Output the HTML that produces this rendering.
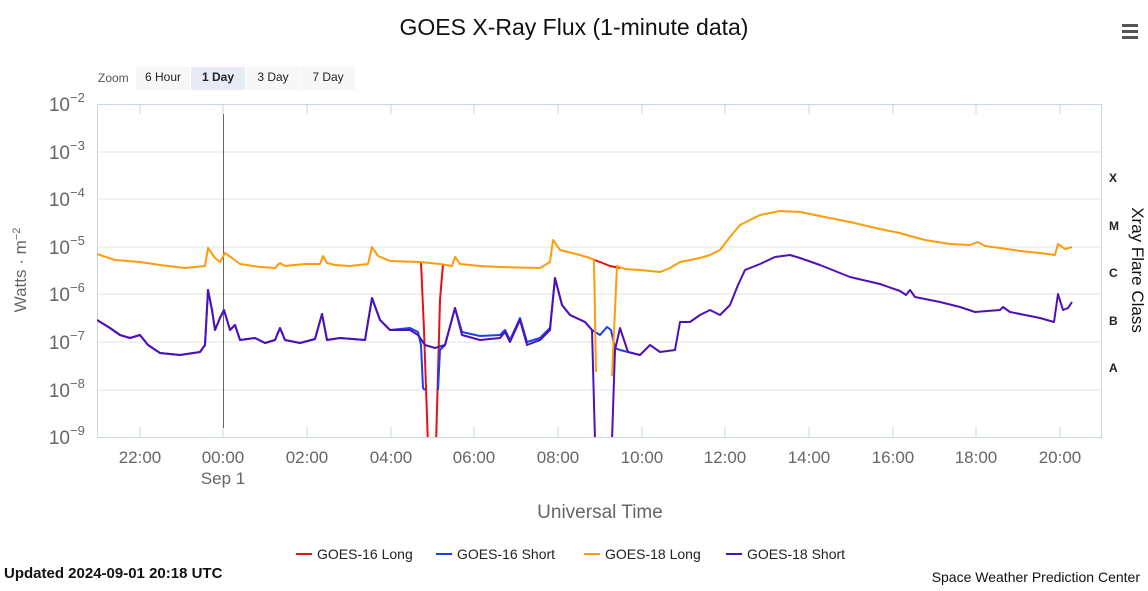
<!DOCTYPE html>
<html><head><meta charset="utf-8"><style>
body{margin:0;background:#fff;width:1148px;height:586px;overflow:hidden;font-family:"Liberation Sans","DejaVu Sans",sans-serif}
svg text{font-family:"Liberation Sans","DejaVu Sans",sans-serif}
</style></head><body>
<svg width="1148" height="586" xmlns="http://www.w3.org/2000/svg">
<text x="574" y="35" font-size="23" text-anchor="middle" fill="#111">GOES X-Ray Flux (1-minute data)</text>
<g fill="#555"><rect x="1122" y="24" width="16" height="3"/><rect x="1122" y="30" width="16" height="3"/><rect x="1122" y="36" width="16" height="3"/></g>
<text x="98" y="82" font-size="12" fill="#555">Zoom</text>
<rect x="136" y="67" width="54" height="23" fill="#f7f7f7"/><text x="163" y="81" font-size="12" text-anchor="middle" fill="#222">6 Hour</text>
<rect x="191" y="67" width="54" height="23" fill="#e6ebf5"/><text x="218" y="81" font-size="12" text-anchor="middle" font-weight="bold" fill="#222">1 Day</text>
<rect x="246" y="67" width="54" height="23" fill="#f7f7f7"/><text x="273" y="81" font-size="12" text-anchor="middle" fill="#222">3 Day</text>
<rect x="301" y="67" width="54" height="23" fill="#f7f7f7"/><text x="328" y="81" font-size="12" text-anchor="middle" fill="#222">7 Day</text>
<g stroke="#e3e3e3" stroke-width="1">
<line x1="97" x2="1102" y1="152" y2="152"/><line x1="97" x2="1102" y1="199" y2="199"/><line x1="97" x2="1102" y1="247" y2="247"/><line x1="97" x2="1102" y1="294" y2="294"/><line x1="97" x2="1102" y1="342" y2="342"/><line x1="97" x2="1102" y1="390" y2="390"/>
</g>
<g stroke="#ccd6eb" stroke-width="1" fill="none">
<rect x="97.5" y="104.5" width="1004" height="333"/>
</g>
<g stroke="#ccd6eb">
<line x1="140" x2="140" y1="104" y2="114"/><line x1="223" x2="223" y1="104" y2="114"/><line x1="307" x2="307" y1="104" y2="114"/><line x1="391" x2="391" y1="104" y2="114"/><line x1="474" x2="474" y1="104" y2="114"/><line x1="558" x2="558" y1="104" y2="114"/><line x1="642" x2="642" y1="104" y2="114"/><line x1="725" x2="725" y1="104" y2="114"/><line x1="809" x2="809" y1="104" y2="114"/><line x1="893" x2="893" y1="104" y2="114"/><line x1="976" x2="976" y1="104" y2="114"/><line x1="1060" x2="1060" y1="104" y2="114"/>
<line x1="140" x2="140" y1="427" y2="437"/><line x1="223" x2="223" y1="427" y2="437"/><line x1="307" x2="307" y1="427" y2="437"/><line x1="391" x2="391" y1="427" y2="437"/><line x1="474" x2="474" y1="427" y2="437"/><line x1="558" x2="558" y1="427" y2="437"/><line x1="642" x2="642" y1="427" y2="437"/><line x1="725" x2="725" y1="427" y2="437"/><line x1="809" x2="809" y1="427" y2="437"/><line x1="893" x2="893" y1="427" y2="437"/><line x1="976" x2="976" y1="427" y2="437"/><line x1="1060" x2="1060" y1="427" y2="437"/>
</g>
<line x1="223.5" x2="223.5" y1="114" y2="428" stroke="#666" stroke-width="1"/>
<g font-size="19" fill="#666" font-family="Liberation Serif,serif" text-anchor="end">
<text x="70" y="111">10</text><text x="70" y="159">10</text><text x="70" y="206">10</text><text x="70" y="254">10</text><text x="70" y="301">10</text><text x="70" y="349">10</text><text x="70" y="397">10</text><text x="70" y="444">10</text>
</g>
<g font-size="13" fill="#666" font-family="Liberation Serif,serif">
<text x="70" y="102">−2</text><text x="70" y="150">−3</text><text x="70" y="197">−4</text><text x="70" y="245">−5</text><text x="70" y="292">−6</text><text x="70" y="340">−7</text><text x="70" y="388">−8</text><text x="70" y="435">−9</text>
</g>
<text transform="translate(26,270) rotate(-90)" font-size="17" fill="#666" text-anchor="middle">Watts · m<tspan font-size="11" dy="-6">−2</tspan></text>
<g font-size="12" font-weight="bold" fill="#222" font-family="Liberation Mono,monospace">
<text x="1109" y="182">X</text><text x="1109" y="230">M</text><text x="1109" y="277">C</text><text x="1109" y="325">B</text><text x="1109" y="372">A</text>
</g>
<text transform="translate(1132,270) rotate(90)" font-size="17" fill="#111" text-anchor="middle">Xray Flare Class</text>
<g font-size="17" fill="#666" text-anchor="middle">
<text x="140" y="463">22:00</text><text x="223" y="463">00:00</text><text x="307" y="463">02:00</text><text x="391" y="463">04:00</text><text x="474" y="463">06:00</text><text x="558" y="463">08:00</text><text x="642" y="463">10:00</text><text x="725" y="463">12:00</text><text x="809" y="463">14:00</text><text x="893" y="463">16:00</text><text x="976" y="463">18:00</text><text x="1060" y="463">20:00</text>
<text x="223" y="484">Sep 1</text>
<text x="600" y="518" font-size="19">Universal Time</text>
</g>
<clipPath id="c"><rect x="97" y="104" width="1005" height="333"/></clipPath>
<g clip-path="url(#c)" fill="none" stroke-width="2" stroke-linejoin="round">
<polyline stroke="#e81010" points="418,262 421,262 424,330 428,445"/>
<polyline stroke="#e81010" points="436,445 440,300 443,264"/>
<polyline stroke="#e81010" points="592,259 600,262 610,266 620,268"/>
<polyline stroke="#1a3ff0" points="97,320 110,328 120,335 130,338 140,335 148,345 160,353 180,355 200,352 205,345 208,290 212,310 215,330 220,318 224,310 230,330 235,325 240,340 255,338 265,343 275,340 280,328 285,340 300,343 315,339 322,314 327,340 340,338 365,340 372,298 380,320 390,330 410,328 418,332 421,345 423,388 425,390"/>
<polyline stroke="#1a3ff0" points="438,390 440,350 445,345 455,308 462,332 480,336 500,335 505,330 510,340 520,318 527,342 540,338 550,328 555,278 562,305 570,315 585,322 592,330 600,335 607,327 611,330 615,348 620,350 628,352 640,355"/>
<polyline stroke="#ff9c0a" points="97,254 115,260 140,262 160,265 185,268 205,266 208,248 215,258 220,262 225,253 232,258 240,264 260,267 275,268 280,263 285,266 305,264 320,264 323,256 327,263 335,265 350,266 368,264 372,247 378,256 390,261 420,262 440,264 452,266 455,257 460,264 480,266 500,267 540,268 550,262 553,240 560,250 580,255 590,258 594,260 596,372"/>
<polyline stroke="#ff9c0a" points="612,376 617,266 625,269 640,270 660,272 670,268 680,262 700,258 710,255 720,250 730,237 740,225 760,215 780,211 800,212 820,216 850,222 880,229 900,233 910,236 925,240 950,244 970,245 978,242 985,246 1000,248 1020,251 1040,253 1055,255 1058,244 1065,249 1072,247"/>
<polyline stroke="#5010b8" points="97,320 110,328 120,335 130,338 140,335 148,345 160,353 180,355 200,352 205,345 208,290 212,310 215,330 220,318 224,310 230,330 235,325 240,340 255,338 265,343 275,340 280,328 285,340 300,343 315,339 322,314 327,340 340,338 365,340 372,298 380,320 390,330 410,330 418,335 425,345 435,348 445,345 455,308 462,335 480,340 500,338 505,332 510,342 520,320 527,345 540,340 550,330 555,278 562,305 570,315 585,322 592,330 595,440"/>
<polyline stroke="#5010b8" points="612,440 615,350 620,328 628,352 640,355 650,345 660,352 675,350 680,322 690,322 700,315 710,310 720,315 730,305 738,285 745,270 760,264 775,257 790,255 800,258 820,265 850,277 880,284 900,291 906,295 910,290 915,297 940,302 960,307 975,312 1000,310 1003,307 1010,312 1040,318 1054,322 1058,294 1063,310 1068,308 1072,302"/>
</g>
<g font-size="14" fill="#222">
<line x1="296" x2="312" y1="554" y2="554" stroke="#e81010" stroke-width="2"/><text x="317" y="559">GOES-16 Long</text>
<line x1="436" x2="452" y1="554" y2="554" stroke="#1a3ff0" stroke-width="2"/><text x="457" y="559">GOES-16 Short</text>
<line x1="584" x2="600" y1="554" y2="554" stroke="#ff9c0a" stroke-width="2"/><text x="605" y="559">GOES-18 Long</text>
<line x1="726" x2="742" y1="554" y2="554" stroke="#5010b8" stroke-width="2"/><text x="747" y="559">GOES-18 Short</text>
</g>
<text x="4" y="578" font-size="15" font-weight="bold" fill="#111">Updated 2024-09-01 20:18 UTC</text>
<text x="1140" y="582" font-size="14" fill="#111" text-anchor="end">Space Weather Prediction Center</text>
</svg>
</body></html>
